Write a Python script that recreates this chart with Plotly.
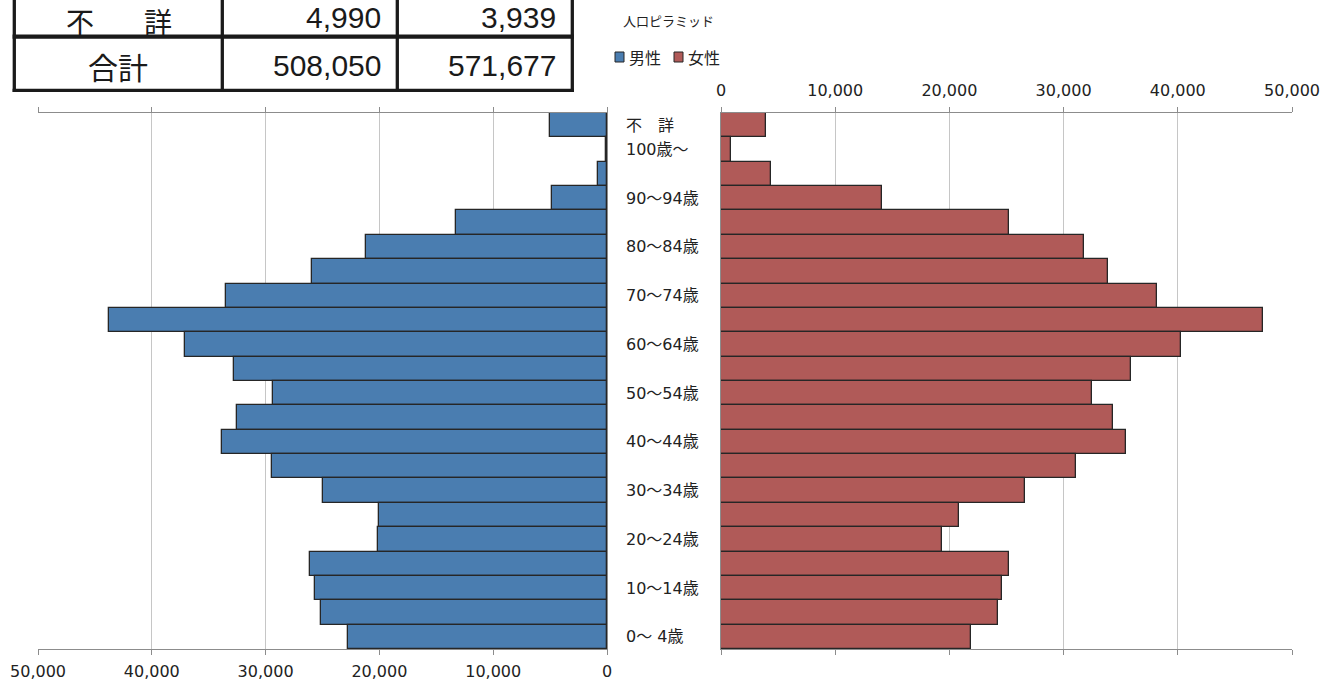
import plotly.graph_objects as go

# ---------------- data ----------------
age_groups = ["不詳", "100歳～", "95～99歳", "90～94歳", "85～89歳", "80～84歳", "75～79歳",
              "70～74歳", "65～69歳", "60～64歳", "55～59歳", "50～54歳", "45～49歳", "40～44歳",
              "35～39歳", "30～34歳", "25～29歳", "20～24歳", "15～19歳", "10～14歳", "5～9歳", "0～4歳"]
shown_labels = ["不　詳", "100歳～", "", "90～94歳", "", "80～84歳", "", "70～74歳", "", "60～64歳", "",
                "50～54歳", "", "40～44歳", "", "30～34歳", "", "20～24歳", "", "10～14歳", "", "0～ 4歳"]
male = [4990, 120, 770, 4810, 13290, 21160, 25940, 33510, 43740, 37110, 32810,
        29370, 32470, 33820, 29440, 24970, 20020, 20090, 26110, 25670, 25170, 22780]
female = [3939, 835, 4420, 14090, 25230, 31800, 33860, 38170, 47500, 40290, 35910,
          32500, 34310, 35460, 31110, 26620, 20880, 19380, 25260, 24570, 24250, 21850]

tick_values = [0, 10000, 20000, 30000, 40000, 50000]
tick_labels = ["0", "10,000", "20,000", "30,000", "40,000", "50,000"]

table_row_labels = ["不詳", "合計"]
table_male = [4990, 508050]
table_female = [3939, 571677]

chart_title = "人口ピラミッド"
series_names = ["男性", "女性"]
male_color = "#4a7db0"
female_color = "#b05a58"

# ---------------- helpers ----------------
W, H = 1322, 682


def px(x):
    return x / W


def py(y):
    return 1 - y / H


AX = "#8c8c8c"
GRID = "#c6c6c6"
TXT = "#222222"
LABEL_FONT = "DejaVu Sans, Noto Sans CJK JP, sans-serif"

fig = go.Figure()
fig.add_trace(go.Bar(y=age_groups, x=male, orientation="h", xaxis="x", yaxis="y",
                     name=series_names[0], width=1,
                     marker=dict(color=male_color, line=dict(color="#262626", width=1.3))))
fig.add_trace(go.Bar(y=age_groups, x=female, orientation="h", xaxis="x2", yaxis="y2",
                     name=series_names[1], width=1,
                     marker=dict(color=female_color, line=dict(color="#262626", width=1.3))))

xcommon = dict(tickvals=tick_values, ticktext=tick_labels, showgrid=True, gridcolor=GRID, gridwidth=1,
               showline=True, linecolor=AX, linewidth=1, mirror="ticks", ticks="outside",
               ticklen=5, tickcolor=AX, tickwidth=1, zeroline=False, automargin=False,
               tickfont=dict(family=LABEL_FONT, size=16, color=TXT), fixedrange=True)
ydom = [py(649), py(113)]
ycommon = dict(type="category", categoryorder="array", categoryarray=age_groups,
               range=[len(age_groups) - 0.5, -0.5], showticklabels=False, showgrid=False,
               showline=True, linecolor=AX, linewidth=1, ticks="", zeroline=False, domain=ydom,
               fixedrange=True, automargin=False)

fig.update_layout(
    width=W, height=H, margin=dict(l=0, r=0, t=0, b=0, pad=0), autosize=False,
    paper_bgcolor="white", plot_bgcolor="white", showlegend=False, bargap=0,
    xaxis=dict(domain=[px(38), px(607)], range=[50000, 0], side="bottom", anchor="y",
               ticklabelstandoff=3, **xcommon),
    xaxis2=dict(domain=[px(721), px(1292)], range=[0, 50000], side="top", anchor="y2",
                ticklabelstandoff=5, **xcommon),
    yaxis=dict(anchor="x", side="right", **ycommon),
    yaxis2=dict(anchor="x2", side="left", matches="y", **ycommon),
)

annotations = []
shapes = []

# category labels in the middle column
for cat, lab in zip(age_groups, shown_labels):
    if lab:
        annotations.append(dict(xref="paper", yref="y", x=px(624), y=cat, text=lab, showarrow=False,
                                xanchor="left", yanchor="middle",
                                font=dict(family=LABEL_FONT, size=16, color=TXT)))

# chart title and manual legend
annotations.append(dict(xref="paper", yref="paper", x=px(621), y=py(21), text=chart_title, showarrow=False,
                        xanchor="left", yanchor="middle",
                        font=dict(family="Noto Sans CJK JP", size=13, color=TXT)))
legend_items = [(615, series_names[0], male_color), (674, series_names[1], female_color)]
for x0, name, col in legend_items:
    shapes.append(dict(type="rect", xref="paper", yref="paper", x0=px(x0), x1=px(x0 + 9),
                       y0=py(62), y1=py(52), fillcolor=col, line=dict(color="#262626", width=1)))
    annotations.append(dict(xref="paper", yref="paper", x=px(x0 + 12), y=py(57), text=name, showarrow=False,
                            xanchor="left", yanchor="middle",
                            font=dict(family="Noto Sans CJK JP", size=16, color=TXT)))

# table (partially visible at top-left)
for xv in [14.3, 222.3, 397.3, 572.3]:
    shapes.append(dict(type="line", xref="paper", yref="paper", x0=px(xv), x1=px(xv),
                       y0=py(-5), y1=py(92), line=dict(color="#1a1a1a", width=3.3)))
shapes.append(dict(type="line", xref="paper", yref="paper", x0=px(12.6), x1=px(574),
                   y0=py(36.7), y1=py(36.7), line=dict(color="#1a1a1a", width=4.3)))
shapes.append(dict(type="line", xref="paper", yref="paper", x0=px(12.6), x1=px(574),
                   y0=py(90.3), y1=py(90.3), line=dict(color="#1a1a1a", width=3.3)))

row_centers = [17.5, 65.5]
TABLE_CJK = "Noto Sans CJK JP"
TABLE_NUM = "Liberation Sans, Arial, sans-serif"
for i, (lab, m, f) in enumerate(zip(table_row_labels, table_male, table_female)):
    yc = row_centers[i]
    if len(lab) == 2 and i == 0:
        for ch, xc in zip(lab, [80, 158]):
            annotations.append(dict(xref="paper", yref="paper", x=px(xc), y=py(0), text=ch, showarrow=False,
                                    xanchor="center", yanchor="top", borderpad=0,
                                    font=dict(family=TABLE_CJK, size=28, color="#1a1a1a")))
    else:
        annotations.append(dict(xref="paper", yref="paper", x=px(118), y=py(yc), text=lab, showarrow=False,
                                xanchor="center", yanchor="middle",
                                font=dict(family=TABLE_CJK, size=30, color="#1a1a1a")))
    for val, xr in [(m, 383), (f, 558)]:
        annotations.append(dict(xref="paper", yref="paper", x=px(xr), y=py(yc), text=f"{val:,}", showarrow=False,
                                xanchor="right", yanchor="middle",
                                font=dict(family=TABLE_NUM, size=30, color="#1a1a1a")))

fig.update_layout(annotations=annotations, shapes=shapes)
fig.write_html("out.html", config={"displayModeBar": False},
               post_script="document.body.style.margin='0';document.body.style.overflow='hidden';")
